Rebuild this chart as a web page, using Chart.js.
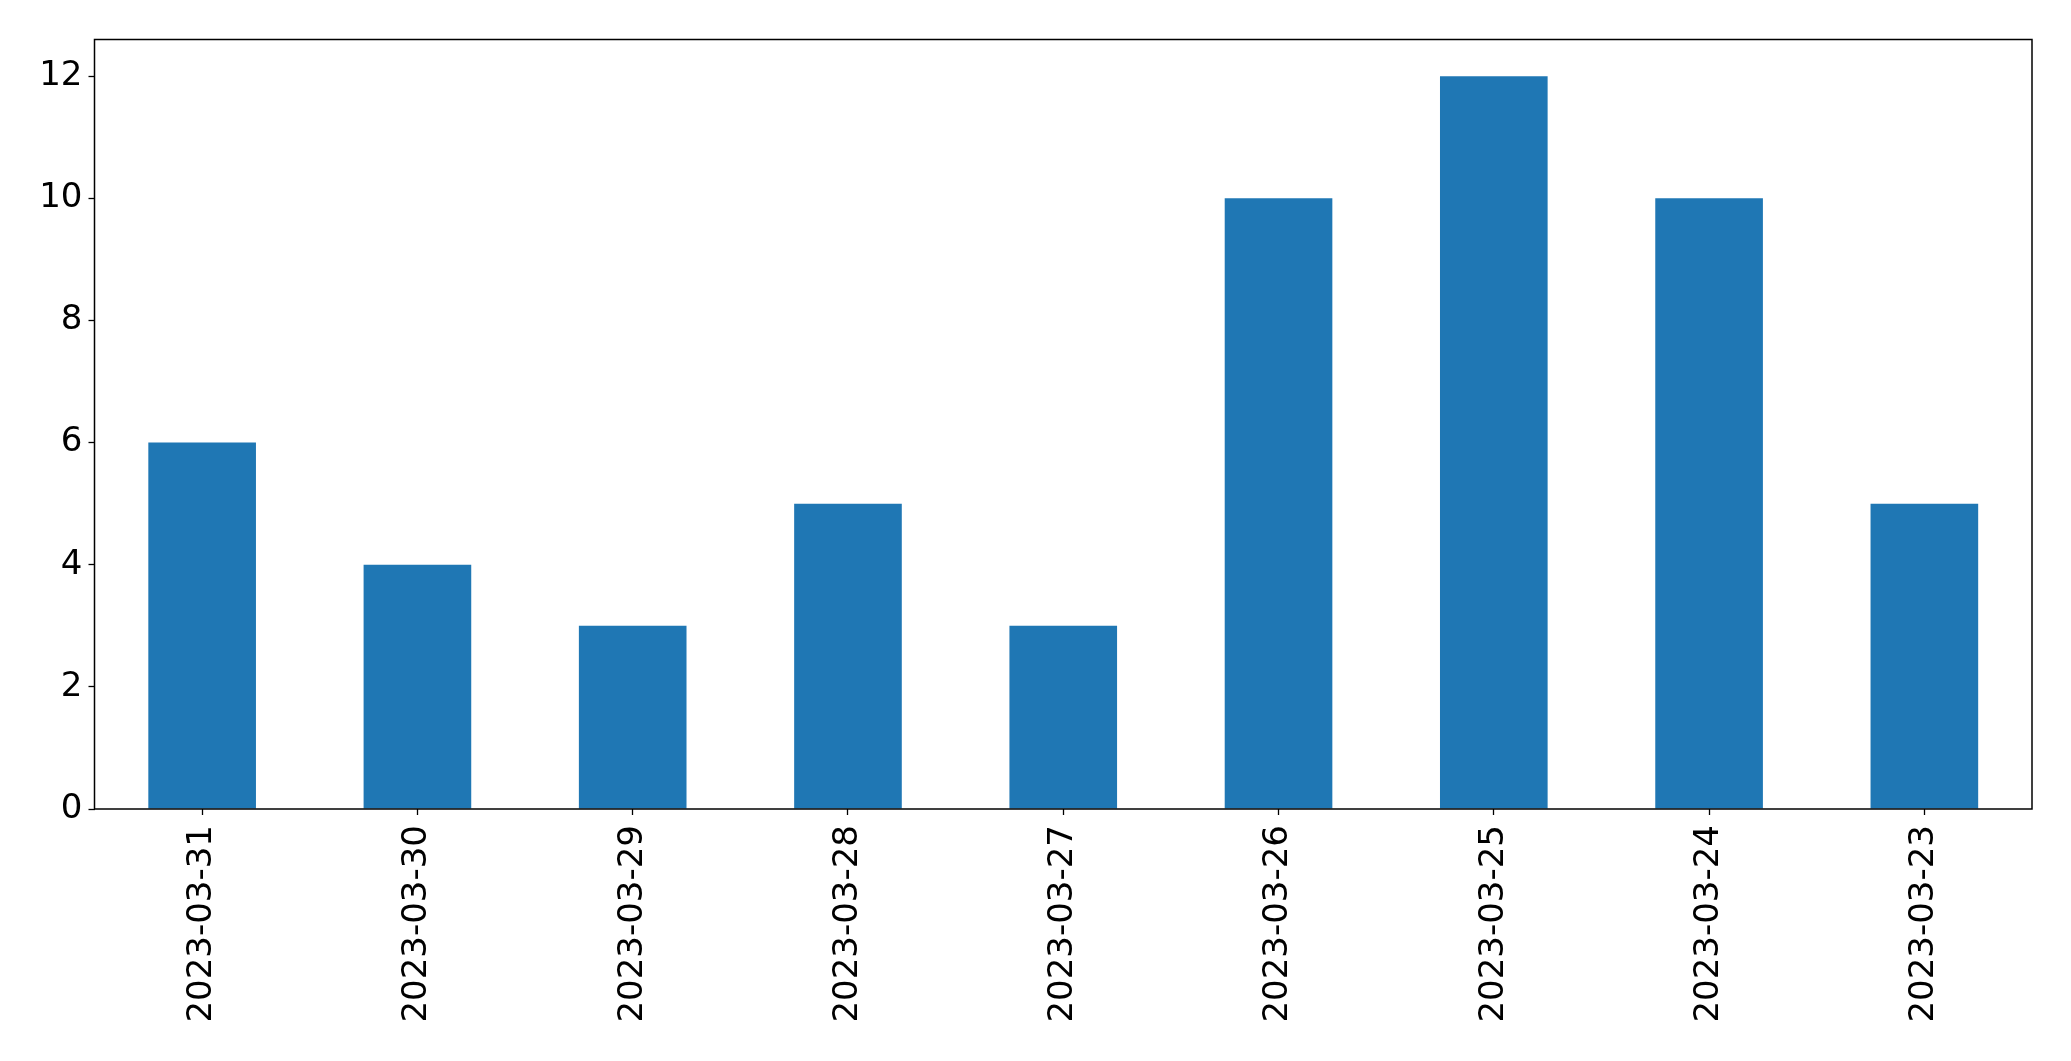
<!DOCTYPE html>
<html>
<head>
<meta charset="utf-8">
<script src="https://cdn.jsdelivr.net/npm/chart.js@4.4.1/dist/chart.umd.min.js"></script>
<style>
  html, body { margin: 0; padding: 0; background: #fff; }
  #wrap { width: 2071px; height: 1061px; }
</style>
</head>
<body>
<div id="wrap"><canvas id="chart" width="2071" height="1061"></canvas></div>
<script>
// Data
const dates = ['2023-03-31', '2023-03-30', '2023-03-29', '2023-03-28', '2023-03-27',
               '2023-03-26', '2023-03-25', '2023-03-24', '2023-03-23'];
const counts = [6, 4, 3, 5, 3, 10, 12, 10, 5];
const yTicks = [0, 2, 4, 6, 8, 10, 12];

// Plot box edges, in px
const plotLeft = 94.5, plotTop = 39.5, plotRight = 2032, plotBottom = 809;

// frame around the plot area (matplotlib spines)
const frame = {
    id: 'frame',
    afterDraw(chart) {
        const a = chart.chartArea;
        const ctx = chart.ctx;
        ctx.save();
        ctx.strokeStyle = '#000';
        ctx.lineWidth = 1.5;
        ctx.strokeRect(a.left, a.top, a.right - a.left, a.bottom - a.top);
        ctx.restore();
    }
};

Chart.defaults.font.family = '"DejaVu Sans", sans-serif';
Chart.defaults.color = '#000';

new Chart(document.getElementById('chart').getContext('2d'), {
    type: 'bar',
    data: {
        labels: dates,
        datasets: [{
            data: counts,
            backgroundColor: '#1f77b4',
            borderWidth: 0,
            categoryPercentage: 1.0,
            barPercentage: 0.5
        }]
    },
    options: {
        responsive: false,
        animation: false,
        layout: {
            padding: { left: 0, top: plotTop, right: 2071 - plotRight, bottom: 0 }
        },
        plugins: {
            legend: { display: false },
            tooltip: { enabled: false }
        },
        scales: {
            x: {
                offset: true,
                grid: {
                    offset: false,
                    drawOnChartArea: false,
                    tickLength: 6,
                    tickColor: '#000',
                    tickWidth: 1.3
                },
                border: { display: false },
                ticks: {
                    font: { size: 34 },
                    minRotation: 90,
                    maxRotation: 90,
                    padding: 10,
                    autoSkip: false
                },
                afterFit(scale) { scale.height = 1061 - plotBottom; }
            },
            y: {
                min: 0,
                max: 12.6,
                afterBuildTicks(scale) {
                    scale.ticks = yTicks.map(v => ({ value: v }));
                },
                grid: {
                    drawOnChartArea: false,
                    tickLength: 6,
                    tickColor: '#000',
                    tickWidth: 1.3
                },
                border: { display: false },
                ticks: {
                    font: { size: 34 },
                    padding: 6
                },
                afterFit(scale) { scale.width = plotLeft; }
            }
        }
    },
    plugins: [frame]
});
</script>
</body>
</html>
